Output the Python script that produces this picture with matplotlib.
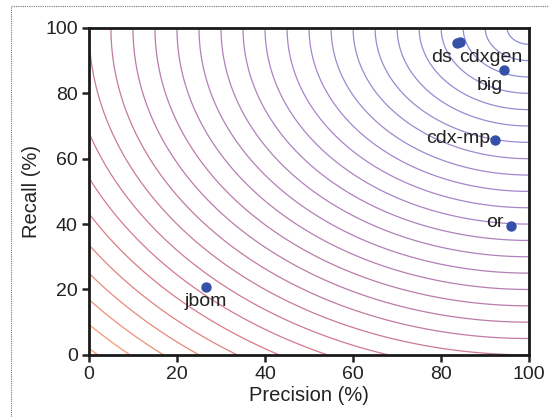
import numpy as np
import matplotlib.pyplot as plt
from matplotlib.colors import LinearSegmentedColormap
from matplotlib.patches import Rectangle

plt.rcParams['font.family'] = ['Liberation Sans', 'DejaVu Sans']

tools = ['ds', 'cdxgen', 'big', 'cdx-mp', 'or', 'jbom']
precision = [83.5, 84.3, 94.3, 92.3, 95.8, 26.5]
recall = [95.3, 95.7, 87.0, 65.8, 39.5, 20.7]
# label offsets in points
offsets = [(-3, -4), (-1, -5), (-1, -5), (-4, 1), (-5, 2), (0, -4)]
aligns = [('right', 'top'), ('left', 'top'), ('right', 'top'),
          ('right', 'center'), ('right', 'center'), ('center', 'top')]

levels = np.arange(5, 145, 5)

fig = plt.figure(figsize=(5.49, 4.17), dpi=100)
ax = fig.add_axes([0.162, 0.149, 0.802, 0.784])

# distance-to-perfect contours
g = np.linspace(0, 100, 401)
X, Y = np.meshgrid(g, g)
D = np.sqrt((100 - X)**2 + (100 - Y)**2)
cmap = LinearSegmentedColormap.from_list(
    'pr', [(0.0, '#8a90d8'), (0.35, '#a686cc'), (0.65, '#bf7aa6'),
           (0.82, '#dc7a86'), (1.0, '#f7a070')])
ax.contour(X, Y, D, levels=levels, cmap=cmap, linewidths=0.9,
           vmin=5, vmax=140)

ax.scatter(precision, recall, s=42, color='#3550a8', zorder=5)
for name, p, r, off, (ha, va) in zip(tools, precision, recall, offsets, aligns):
    ax.annotate(name, (p, r), xytext=off, textcoords='offset points',
                ha=ha, va=va, fontsize=14, color='#222222', zorder=6)

ax.set_xlim(0, 100)
ax.set_ylim(0, 100)
ax.set_xticks([0, 20, 40, 60, 80, 100])
ax.set_yticks([0, 20, 40, 60, 80, 100])
ax.tick_params(labelsize=14, width=1.8, length=5, direction='out',
               colors='#222222', pad=3)
for s in ax.spines.values():
    s.set_linewidth(2)
    s.set_color('#1a1a1a')
ax.set_xlabel('Precision (%)', fontsize=14.5, color='#222222', labelpad=2)
ax.set_ylabel('Recall (%)', fontsize=14.5, color='#222222', labelpad=3)

# dotted panel border
fig.patches.append(Rectangle((11 / 549, -0.1), 1.2, (1 - 6 / 417) + 0.1,
                             transform=fig.transFigure, fill=False,
                             linestyle=(0, (1, 1)), linewidth=0.8,
                             edgecolor='#777777'))

fig.savefig('out.png', dpi=100)
